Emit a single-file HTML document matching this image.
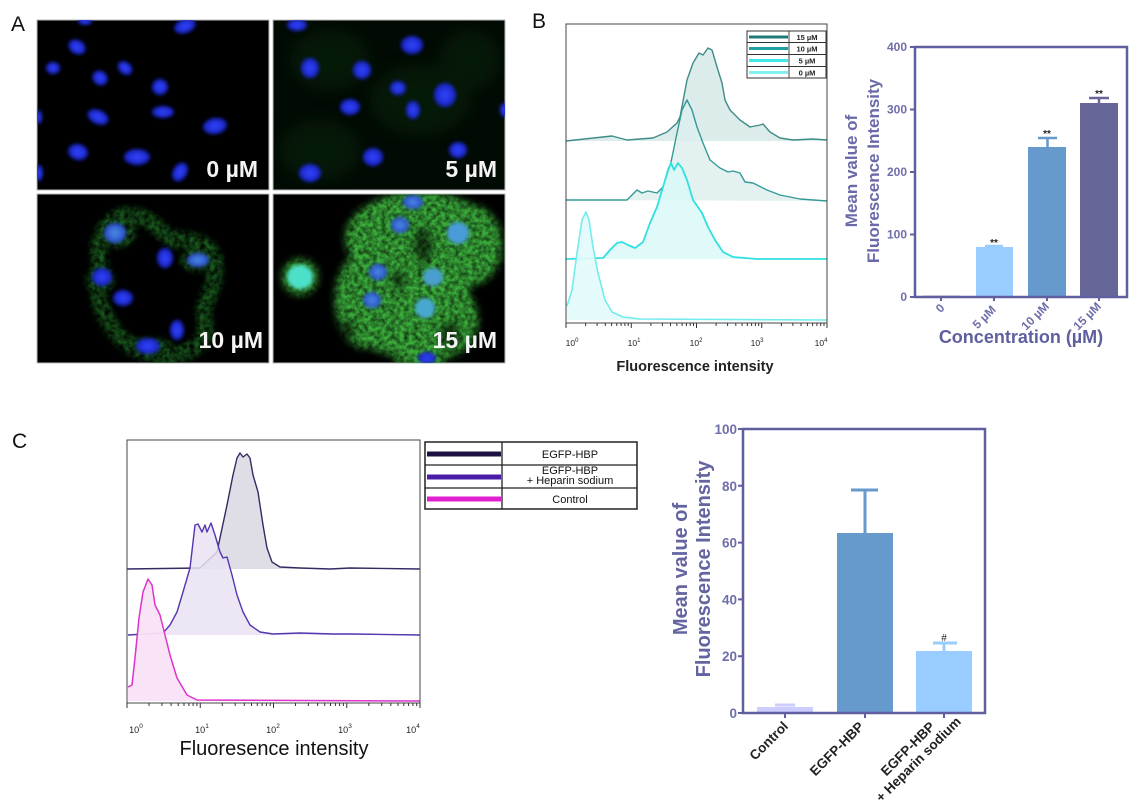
<!DOCTYPE html>
<html><head><meta charset="utf-8"><style>
html,body{margin:0;padding:0;background:#fff;}
svg{display:block;}
</style></head><body>
<svg width="1136" height="809" viewBox="0 0 1136 809" xmlns="http://www.w3.org/2000/svg" font-family="'Liberation Sans', Arial, sans-serif">
<defs>
<filter id="b2" x="-50%" y="-50%" width="200%" height="200%"><feGaussianBlur stdDeviation="1.8"/></filter>
<filter id="b4" x="-50%" y="-50%" width="200%" height="200%"><feGaussianBlur stdDeviation="4"/></filter>
<filter id="b8" x="-50%" y="-50%" width="200%" height="200%"><feGaussianBlur stdDeviation="8"/></filter>
<filter id="gt" x="-20%" y="-20%" width="140%" height="140%">
 <feGaussianBlur in="SourceGraphic" stdDeviation="4" result="bl"/>
 <feTurbulence type="fractalNoise" baseFrequency="0.22" numOctaves="2" seed="5" result="n"/>
 <feColorMatrix in="n" type="matrix" values="0 0 0 0 0  0 0 0 0 0  0 0 0 0 0  0 0 0 1.2 0.15" result="na"/>
 <feComposite in="bl" in2="na" operator="in"/>
</filter>
<filter id="gt2" x="-20%" y="-20%" width="140%" height="140%">
 <feGaussianBlur in="SourceGraphic" stdDeviation="3" result="bl"/>
 <feTurbulence type="fractalNoise" baseFrequency="0.2" numOctaves="2" seed="9" result="n"/>
 <feColorMatrix in="n" type="matrix" values="0 0 0 0 0  0 0 0 0 0  0 0 0 0 0  0 0 0 1.6 -0.2" result="na"/>
 <feComposite in="bl" in2="na" operator="in"/>
</filter>
<radialGradient id="nuc"><stop offset="0" stop-color="#3446ff"/><stop offset="1" stop-color="#1622c0"/></radialGradient>
<radialGradient id="nucc"><stop offset="0" stop-color="#4a90e0"/><stop offset="1" stop-color="#2a48d0"/></radialGradient>
<clipPath id="cTL"><rect x="37" y="20" width="232" height="170"/></clipPath>
<clipPath id="cTR"><rect x="273" y="20" width="232" height="170"/></clipPath>
<clipPath id="cBL"><rect x="37" y="194" width="232" height="169"/></clipPath>
<clipPath id="cBR"><rect x="273" y="194" width="232" height="169"/></clipPath>
</defs>

<!-- ===== Panel A ===== -->
<text x="11" y="31" font-size="21" fill="#111">A</text>
<rect x="37" y="20" width="232" height="170" fill="#000" stroke="#bbb" stroke-width="1"/>
<rect x="273" y="20" width="232" height="170" fill="#020a04" stroke="#bbb" stroke-width="1"/>
<rect x="37" y="194" width="232" height="169" fill="#000" stroke="#bbb" stroke-width="1"/>
<rect x="273" y="194" width="232" height="169" fill="#000" stroke="#bbb" stroke-width="1"/>

<g clip-path="url(#cTL)" fill="url(#nuc)" filter="url(#b2)">
 <ellipse cx="185" cy="26" rx="11" ry="7" transform="rotate(-20 185 26)"/>
 <ellipse cx="85" cy="21" rx="7" ry="4"/>
 <ellipse cx="77" cy="47" rx="9" ry="7" transform="rotate(30 77 47)"/>
 <ellipse cx="53" cy="68" rx="7" ry="6"/>
 <ellipse cx="100" cy="78" rx="8" ry="7" transform="rotate(40 100 78)"/>
 <ellipse cx="125" cy="68" rx="8" ry="6" transform="rotate(40 125 68)"/>
 <ellipse cx="160" cy="87" rx="8" ry="8"/>
 <ellipse cx="98" cy="117" rx="11" ry="7" transform="rotate(25 98 117)"/>
 <ellipse cx="163" cy="112" rx="11" ry="6"/>
 <ellipse cx="215" cy="126" rx="12" ry="8" transform="rotate(-10 215 126)"/>
 <ellipse cx="78" cy="152" rx="10" ry="8" transform="rotate(15 78 152)"/>
 <ellipse cx="137" cy="157" rx="13" ry="8"/>
 <ellipse cx="180" cy="172" rx="7" ry="10" transform="rotate(30 180 172)"/>
 <ellipse cx="39" cy="173" rx="4" ry="8"/>
 <ellipse cx="39" cy="117" rx="3" ry="7"/>
</g>

<g clip-path="url(#cTR)">
 <g fill="#0c3410" opacity="0.35" filter="url(#b8)">
  <ellipse cx="330" cy="60" rx="40" ry="30"/>
  <ellipse cx="420" cy="100" rx="50" ry="35"/>
  <ellipse cx="320" cy="150" rx="40" ry="30"/>
  <ellipse cx="470" cy="60" rx="30" ry="30"/>
 </g>
 <g fill="url(#nuc)" filter="url(#b2)">
  <ellipse cx="297" cy="25" rx="10" ry="6"/>
  <ellipse cx="412" cy="45" rx="11" ry="9"/>
  <ellipse cx="310" cy="68" rx="9" ry="10"/>
  <ellipse cx="362" cy="70" rx="9" ry="9"/>
  <ellipse cx="398" cy="88" rx="8" ry="7"/>
  <ellipse cx="445" cy="95" rx="11" ry="12"/>
  <ellipse cx="350" cy="107" rx="10" ry="8"/>
  <ellipse cx="413" cy="110" rx="7" ry="9"/>
  <ellipse cx="504" cy="110" rx="4" ry="7"/>
  <ellipse cx="458" cy="150" rx="9" ry="8"/>
  <ellipse cx="373" cy="157" rx="10" ry="9"/>
  <ellipse cx="310" cy="173" rx="11" ry="9"/>
 </g>
</g>

<g clip-path="url(#cBL)">
 <g fill="#1e6a24" stroke="#1e6a24" filter="url(#gt2)" opacity="0.85">
  <path d="M100,262 C95,240 105,220 125,215 C150,212 160,235 175,240 C195,238 215,245 215,265 C218,290 200,300 205,320 C210,345 185,358 160,355 C130,352 115,335 105,315 C95,300 100,285 100,262 Z" fill="none" stroke-width="16"/>
  <ellipse cx="118" cy="232" rx="18" ry="16" stroke="none"/>
  <ellipse cx="198" cy="260" rx="18" ry="12" stroke="none"/>
  <ellipse cx="150" cy="348" rx="24" ry="10" stroke="none"/>
  <ellipse cx="100" cy="280" rx="14" ry="14" stroke="none"/>
 </g>
 <g filter="url(#b2)">
  <ellipse cx="115" cy="233" rx="11" ry="10" fill="url(#nucc)"/>
  <ellipse cx="165" cy="258" rx="8" ry="10" fill="url(#nuc)"/>
  <ellipse cx="198" cy="260" rx="11" ry="7" fill="url(#nucc)"/>
  <ellipse cx="102" cy="277" rx="10" ry="9" fill="url(#nuc)"/>
  <ellipse cx="123" cy="298" rx="10" ry="8" fill="url(#nuc)"/>
  <ellipse cx="177" cy="330" rx="7" ry="10" fill="url(#nuc)"/>
  <ellipse cx="148" cy="346" rx="12" ry="8" fill="url(#nuc)"/>
 </g>
</g>

<g clip-path="url(#cBR)">
 <g fill="#3aae3a" filter="url(#gt)">
  <ellipse cx="420" cy="238" rx="75" ry="46"/>
  <ellipse cx="405" cy="300" rx="66" ry="56"/>
  <ellipse cx="470" cy="245" rx="32" ry="40"/>
  <ellipse cx="365" cy="300" rx="30" ry="48"/>
  <ellipse cx="440" cy="320" rx="38" ry="38"/>
  <ellipse cx="420" cy="355" rx="26" ry="16"/>
  <ellipse cx="300" cy="277" rx="18" ry="18"/>
 </g>
 <g fill="#000" opacity="0.6" filter="url(#b4)">
  <ellipse cx="423" cy="245" rx="9" ry="18"/>
  <ellipse cx="450" cy="335" rx="10" ry="14"/>
  <ellipse cx="347" cy="330" rx="8" ry="10"/>
  <ellipse cx="398" cy="280" rx="6" ry="10"/>
 </g>
 <g filter="url(#b2)">
  <ellipse cx="300" cy="277" rx="13" ry="12" fill="#4ee0c8"/>
  <ellipse cx="413" cy="202" rx="10" ry="7" fill="url(#nucc)"/>
  <ellipse cx="400" cy="225" rx="9" ry="8" fill="url(#nucc)"/>
  <ellipse cx="458" cy="233" rx="11" ry="11" fill="#4a9cd8"/>
  <ellipse cx="378" cy="272" rx="9" ry="8" fill="url(#nucc)"/>
  <ellipse cx="433" cy="277" rx="10" ry="9" fill="#48a0d0"/>
  <ellipse cx="372" cy="300" rx="9" ry="8" fill="url(#nucc)"/>
  <ellipse cx="425" cy="308" rx="10" ry="10" fill="#48a8d0"/>
  <ellipse cx="427" cy="358" rx="9" ry="6" fill="url(#nuc)"/>
 </g>
</g>

<g font-size="23" font-weight="bold" fill="#f4f4f4" text-anchor="end">
 <text x="258" y="177">0 µM</text>
 <text x="497" y="177">5 µM</text>
 <text x="263" y="348">10 µM</text>
 <text x="497" y="348">15 µM</text>
</g>

<!-- ===== Panel B histogram ===== -->
<text x="532" y="28" font-size="21" fill="#111">B</text>
<g stroke-linejoin="round" stroke-width="1.4">
 <path d="M566,141 L612,136 L627,140 L653,138 L667,132 L677,123 L680,117 L687,80 L693,63 L699,53 L703,55 L708,48 L712,50 L717,67 L722,83 L725,100 L730,110 L740,120 L750,127 L760,125 L763,124 L770,132 L780,138 L793,140 L813,139 L827,140 L827,141 Z" fill="#d6e9e7" fill-opacity="0.85" stroke="none"/>
 <path d="M566,141 L612,136 L627,140 L653,138 L667,132 L677,123 L680,117 L687,80 L693,63 L699,53 L703,55 L708,48 L712,50 L717,67 L722,83 L725,100 L730,110 L740,120 L750,127 L760,125 L763,124 L770,132 L780,138 L793,140 L813,139 L827,140" fill="none" stroke="#3e8c88"/>

 <path d="M566,200 L627,200 L637,190 L642,193 L648,191 L657,193 L663,187 L670,167 L677,133 L682,110 L687,100 L692,110 L697,127 L703,143 L710,160 L720,168 L728,172 L733,171 L740,173 L745,182 L753,183 L767,190 L780,195 L800,199 L827,201 L827,201 Z" fill="#dcefee" fill-opacity="0.8" stroke="none"/>
 <path d="M566,200 L627,200 L637,190 L642,193 L648,191 L657,193 L663,187 L670,167 L677,133 L682,110 L687,100 L692,110 L697,127 L703,143 L710,160 L720,168 L728,172 L733,171 L740,173 L745,182 L753,183 L767,190 L780,195 L800,199 L827,201" fill="none" stroke="#349a96"/>

 <path d="M566,259 L603,258 L610,250 L617,243 L622,242 L628,245 L635,248 L643,242 L650,223 L657,207 L663,187 L668,170 L671,163 L674,170 L678,163 L682,168 L687,180 L693,200 L702,213 L708,227 L715,240 L723,252 L733,257 L757,259 L827,259 Z" fill="#d8f8f8" fill-opacity="0.8" stroke="none"/>
 <path d="M566,259 L603,258 L610,250 L617,243 L622,242 L628,245 L635,248 L643,242 L650,223 L657,207 L663,187 L668,170 L671,163 L674,170 L678,163 L682,168 L687,180 L693,200 L702,213 L708,227 L715,240 L723,252 L733,257 L757,259 L827,259" fill="none" stroke="#30e0e0" stroke-width="1.8"/>

 <path d="M567,320 L567,306 L572,290 L577,253 L582,220 L586,212 L589,220 L593,247 L598,273 L605,300 L612,312 L623,317 L640,319 L827,320 Z" fill="#e2fbfb" fill-opacity="0.9" stroke="none"/>
 <path d="M567,306 L572,290 L577,253 L582,220 L586,212 L589,220 L593,247 L598,273 L605,300 L612,312 L623,317 L640,319 L827,320" fill="none" stroke="#74ecec" stroke-width="1.6"/>
</g>
<rect x="566" y="24" width="261" height="299" fill="none" stroke="#444" stroke-width="1"/>
<path d="M566,323v5 M631.25,323v5 M696.5,323v5 M761.75,323v5 M827,323v5
M585.6,323v3 M597.1,323v3 M605.3,323v3 M611.6,323v3 M616.8,323v3 M621.1,323v3 M624.9,323v3 M628.2,323v3
M650.9,323v3 M662.4,323v3 M670.5,323v3 M676.9,323v3 M682.1,323v3 M686.4,323v3 M690.2,323v3 M693.5,323v3
M716.1,323v3 M727.6,323v3 M735.8,323v3 M742.1,323v3 M747.3,323v3 M751.6,323v3 M755.4,323v3 M758.7,323v3
M781.4,323v3 M792.9,323v3 M801,323v3 M807.4,323v3 M812.6,323v3 M816.9,323v3 M820.7,323v3 M824,323v3" stroke="#333" stroke-width="1" fill="none"/>
<g font-size="8.5" fill="#222" text-anchor="middle">
 <text x="572" y="346">10<tspan font-size="6" dy="-4">0</tspan></text>
 <text x="634" y="346">10<tspan font-size="6" dy="-4">1</tspan></text>
 <text x="696" y="346">10<tspan font-size="6" dy="-4">2</tspan></text>
 <text x="757" y="346">10<tspan font-size="6" dy="-4">3</tspan></text>
 <text x="821" y="346">10<tspan font-size="6" dy="-4">4</tspan></text>
</g>
<text x="695" y="371" font-size="14.5" font-weight="bold" fill="#222" text-anchor="middle">Fluorescence intensity</text>
<!-- legend B -->
<rect x="747" y="31" width="79" height="47" fill="#fff" stroke="#333" stroke-width="1"/>
<path d="M789,31V78 M747,42.5H826 M747,54.5H826 M747,66.5H826" stroke="#333" stroke-width="0.9"/>
<path d="M749,37H788" stroke="#1f7a78" stroke-width="3"/>
<path d="M749,48.5H788" stroke="#22a0a0" stroke-width="3"/>
<path d="M749,60.5H788" stroke="#40e8e8" stroke-width="3"/>
<path d="M749,72.5H788" stroke="#84f0f0" stroke-width="3"/>
<g font-size="7.5" font-weight="bold" fill="#222" text-anchor="middle">
 <text x="807" y="40">15 µM</text>
 <text x="807" y="51.5">10 µM</text>
 <text x="807" y="63.5">5 µM</text>
 <text x="807" y="75.5">0 µM</text>
</g>

<!-- ===== Panel B bar chart ===== -->
<g fill="none" stroke-width="2.5">
 <path d="M1038,138H1057 M1047.5,138V147" stroke="#6699cc"/>
 <path d="M1089,98H1109 M1099,98V103" stroke="#666699"/>
 <path d="M985,246H1003" stroke="#99ccff"/>
</g>
<rect x="923" y="295.5" width="37" height="1.5" fill="#aab"/>
<rect x="976" y="247" width="37" height="50" fill="#99ccff"/>
<rect x="1028" y="147" width="38" height="150" fill="#6699cc"/>
<rect x="1080" y="103" width="38" height="194" fill="#666699"/>
<rect x="915" y="47" width="212" height="250" fill="none" stroke="#5f5f9f" stroke-width="2.5"/>
<path d="M915,47h-5 M915,109.5h-5 M915,172h-5 M915,234.5h-5 M915,297h-5 M941,297v4 M994,297v4 M1047,297v4 M1099,297v4" stroke="#5f5f9f" stroke-width="2"/>
<g font-size="12" font-weight="bold" fill="#6e6eaa" text-anchor="end">
 <text x="907" y="51">400</text>
 <text x="907" y="113.5">300</text>
 <text x="907" y="176">200</text>
 <text x="907" y="238.5">100</text>
 <text x="907" y="301">0</text>
</g>
<g font-size="10" font-weight="bold" fill="#222" text-anchor="middle">
 <text x="994" y="246">**</text>
 <text x="1047" y="137">**</text>
 <text x="1099" y="97">**</text>
</g>
<g font-size="12" font-weight="bold" fill="#6e6eaa" text-anchor="middle">
 <text transform="translate(943,311) rotate(-45)">0</text>
 <text transform="translate(987,320) rotate(-45)">5 µM</text>
 <text transform="translate(1038,319) rotate(-45)">10 µM</text>
 <text transform="translate(1090,319) rotate(-45)">15 µM</text>
</g>
<text x="1021" y="343" font-size="18" font-weight="bold" fill="#5f5fa0" text-anchor="middle">Concentration (µM)</text>
<g font-size="17" font-weight="bold" fill="#6a6aa8" text-anchor="middle">
 <text transform="translate(857,171) rotate(-90)">Mean value of</text>
 <text transform="translate(879,171) rotate(-90)">Fluorescence Intensity</text>
</g>

<!-- ===== Panel C histogram ===== -->
<text x="12" y="448" font-size="21" fill="#111">C</text>
<g stroke-linejoin="round">
 <path d="M127,569 L200,568 L217,552 L227,505 L233,475 L237,458 L240,453 L243,457 L247,454 L250,458 L253,475 L258,492 L263,525 L267,548 L272,562 L280,567 L300,568 L330,569 L350,568 L420,569 Z" fill="#dcd9e3" fill-opacity="0.9" stroke="none"/>
 <path d="M127,569 L200,568 L217,552 L227,505 L233,475 L237,458 L240,453 L243,457 L247,454 L250,458 L253,475 L258,492 L263,525 L267,548 L272,562 L280,567 L300,568 L330,569 L350,568 L420,569" fill="none" stroke="#352a62" stroke-width="1.4"/>
 <path d="M128,635 L163,633 L170,625 L177,612 L183,592 L190,568 L195,525 L198,524 L202,532 L205,525 L207,532 L211,523 L215,535 L220,552 L223,558 L227,557 L232,575 L237,595 L243,612 L250,625 L260,632 L273,634 L300,633 L333,634 L353,634 L420,635 Z" fill="#e9e2f3" fill-opacity="0.85" stroke="none"/>
 <path d="M128,635 L163,633 L170,625 L177,612 L183,592 L190,568 L195,525 L198,524 L202,532 L205,525 L207,532 L211,523 L215,535 L220,552 L223,558 L227,557 L232,575 L237,595 L243,612 L250,625 L260,632 L273,634 L300,633 L333,634 L353,634 L420,635" fill="none" stroke="#5535b0" stroke-width="1.4"/>
 <path d="M128,701 L128,687 L132,685 L135,658 L139,618 L143,592 L148,579 L152,585 L155,605 L160,615 L165,635 L170,655 L177,678 L187,695 L197,700 L420,701 Z" fill="#f9e2f5" fill-opacity="0.95" stroke="none"/>
 <path d="M128,687 L132,685 L135,658 L139,618 L143,592 L148,579 L152,585 L155,605 L160,615 L165,635 L170,655 L177,678 L187,695 L197,700 L420,701" fill="none" stroke="#dd33cc" stroke-width="1.5"/>
</g>
<rect x="127" y="440" width="293" height="263" fill="none" stroke="#444" stroke-width="1"/>
<path d="M127,703v5 M200.25,703v5 M273.5,703v5 M346.75,703v5 M420,703v5
M149,703v3 M161.9,703v3 M171.1,703v3 M178.2,703v3 M184,703v3 M188.9,703v3 M193.1,703v3 M196.9,703v3
M222.3,703v3 M235.2,703v3 M244.3,703v3 M251.5,703v3 M257.3,703v3 M262.1,703v3 M266.4,703v3 M270.2,703v3
M295.5,703v3 M308.4,703v3 M317.6,703v3 M324.7,703v3 M330.5,703v3 M335.4,703v3 M339.6,703v3 M343.4,703v3
M368.8,703v3 M381.7,703v3 M390.8,703v3 M398,703v3 M403.8,703v3 M408.6,703v3 M412.9,703v3 M416.7,703v3" stroke="#333" stroke-width="1" fill="none"/>
<g font-size="9" fill="#222" text-anchor="middle">
 <text x="136" y="733">10<tspan font-size="6.5" dy="-5">0</tspan></text>
 <text x="202" y="733">10<tspan font-size="6.5" dy="-5">1</tspan></text>
 <text x="273" y="733">10<tspan font-size="6.5" dy="-5">2</tspan></text>
 <text x="345" y="733">10<tspan font-size="6.5" dy="-5">3</tspan></text>
 <text x="413" y="733">10<tspan font-size="6.5" dy="-5">4</tspan></text>
</g>
<text x="274" y="755" font-size="20" fill="#111" text-anchor="middle">Fluoresence intensity</text>
<!-- legend C -->
<rect x="425" y="442" width="212" height="67" fill="#fff" stroke="#222" stroke-width="1.5"/>
<path d="M502,442V509 M425,465H637 M425,488H637" stroke="#222" stroke-width="1.3"/>
<path d="M427,454H501" stroke="#1e1040" stroke-width="5"/>
<path d="M427,477H501" stroke="#4a1ca8" stroke-width="5"/>
<path d="M427,499H501" stroke="#e020d0" stroke-width="5"/>
<g font-size="11" fill="#111" text-anchor="middle">
 <text x="570" y="458">EGFP-HBP</text>
 <text x="570" y="474">EGFP-HBP</text>
 <text x="570" y="484">+ Heparin sodium</text>
 <text x="570" y="503">Control</text>
</g>

<!-- ===== Panel C bar chart ===== -->
<g fill="none" stroke-width="3">
 <path d="M851,490H878 M865,490V533" stroke="#6699cc"/>
 <path d="M933,643H957 M944,643V651" stroke="#99ccff"/>
 <path d="M775,705H795" stroke="#ccccff"/>
</g>
<rect x="757" y="707" width="56" height="6" fill="#ccccff"/>
<rect x="837" y="533" width="56" height="180" fill="#6699cc"/>
<rect x="916" y="651" width="56" height="62" fill="#99ccff"/>
<rect x="743" y="429" width="242" height="284" fill="none" stroke="#5f5f9f" stroke-width="2.5"/>
<path d="M743,429h-5 M743,485.8h-5 M743,542.6h-5 M743,599.4h-5 M743,656.2h-5 M743,713h-5 M785,713v5 M865,713v5 M944,713v5" stroke="#5f5f9f" stroke-width="2"/>
<g font-size="13.5" font-weight="bold" fill="#6e6eaa" text-anchor="end">
 <text x="737" y="434">100</text>
 <text x="737" y="490.8">80</text>
 <text x="737" y="547.6">60</text>
 <text x="737" y="604.4">40</text>
 <text x="737" y="661.2">20</text>
 <text x="737" y="718">0</text>
</g>
<text x="944" y="641" font-size="10" fill="#222" text-anchor="middle">#</text>
<g font-size="13.5" font-weight="bold" fill="#222" text-anchor="middle">
 <text transform="translate(772,744) rotate(-45)">Control</text>
 <text transform="translate(840,752) rotate(-45)">EGFP-HBP</text>
 <text transform="translate(911,752) rotate(-45)">EGFP-HBP<tspan x="0" dy="15">+ Heparin sodium</tspan></text>
</g>
<g font-size="20" font-weight="bold" fill="#6464a0" text-anchor="middle">
 <text transform="translate(687,569) rotate(-90)">Mean value of</text>
 <text transform="translate(710,569) rotate(-90)">Fluorescence Intensity</text>
</g>
</svg>
</body></html>
